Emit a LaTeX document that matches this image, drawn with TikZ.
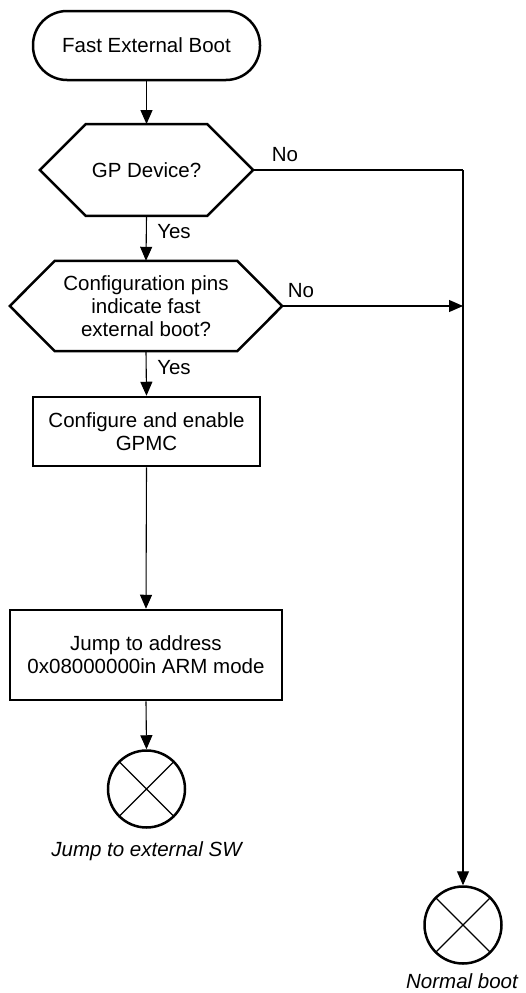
\documentclass[tikz,border=0pt]{standalone}
\usepackage{fontspec}
\setmainfont{Liberation Sans}
\usetikzlibrary{arrows.meta,shapes.geometric}
\begin{document}
\begin{tikzpicture}[x=1pt,y=-1pt,
  txt/.style={font=\fontsize{20.5}{23}\selectfont, align=center},
  term/.style={txt, draw, line width=2.5pt, rounded corners=34pt, minimum width=227pt, minimum height=69pt, inner sep=0pt},
  proc/.style={txt, draw, line width=2.5pt, inner sep=0pt},
  hexbox/.style={txt, inner sep=0pt},
  hexline/.style={line width=2.5pt, line join=miter},
  endc/.style={circle, draw, line width=2.5pt, minimum size=77pt, inner sep=0pt},
  conn/.style={line width=1.1pt, -{Triangle[length=14pt,width=12pt]}},
  plain/.style={line width=1.1pt},
  lab/.style={font=\fontsize{20.5}{23}\selectfont},
  itlab/.style={font=\fontsize{20.5}{23}\selectfont\itshape}
]
\useasboundingbox (0,0) rectangle (525,993);

\node[term] (start) at (146.5,45.5) {Fast External Boot};

\node[hexbox, minimum width=213pt, minimum height=91.5pt] (d1) at (146.5,170) {GP Device?};
\draw[hexline] (d1.west) -- ([xshift=46pt]d1.north west) -- ([xshift=-46pt]d1.north east) -- (d1.east) -- ([xshift=-46pt]d1.south east) -- ([xshift=46pt]d1.south west) -- cycle;

\node[hexbox, minimum width=272pt, minimum height=90pt] (d2) at (146,306) {Configuration pins\\indicate fast\\external boot?};
\draw[hexline] (d2.west) -- ([xshift=45pt]d2.north west) -- ([xshift=-45pt]d2.north east) -- (d2.east) -- ([xshift=-45pt]d2.south east) -- ([xshift=45pt]d2.south west) -- cycle;

\node[proc, minimum width=227pt, minimum height=69pt] (p1) at (146.5,431.5) {Configure and enable\\GPMC};
\node[proc, minimum width=272pt, minimum height=90pt] (p2) at (146,655) {Jump to address\\0x08000000in ARM mode};

\node[endc] (e1) at (146.5,789) {};
\draw[plain] (e1.north west) -- (e1.south east) (e1.north east) -- (e1.south west);
\node[itlab] (l1) at (146.5,851) {Jump to external SW};

\node[endc] (e2) at (463,925) {};
\draw[plain] (e2.north west) -- (e2.south east) (e2.north east) -- (e2.south west);
\node[itlab] (l2) at (462,981) {Normal boot};

\coordinate (c1) at (463,170);
\coordinate (c2) at (463,306);

\draw[conn] (start.south) -- (d1.north);
\draw[conn] (d1.south) -- (d2.north);
\draw[conn] (d2.south) -- (p1.north);
\draw[conn] (p1.south) -- (p2.north);
\draw[conn] (p2.south) -- (e1.north);
\draw[plain] (d1.east) -- (c1);
\draw[conn] (c1) -- (e2.north);
\draw[conn] (d2.east) -- (c2);

\node[lab] (n1) at (285,155) {No};
\node[lab] (y1) at (174,232) {Yes};
\node[lab] (n2) at (301,291) {No};
\node[lab] (y2) at (174,368) {Yes};
\end{tikzpicture}
\end{document}
